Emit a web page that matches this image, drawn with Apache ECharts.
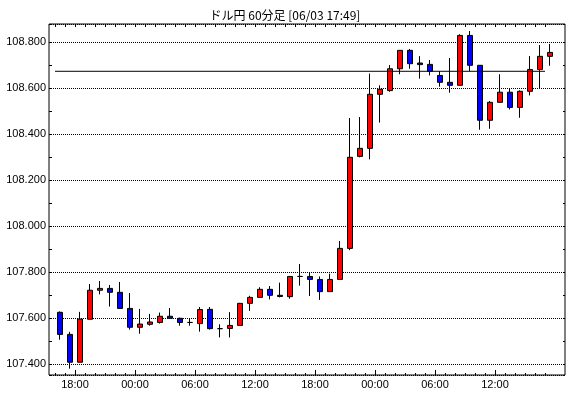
<!DOCTYPE html>
<html>
<head>
<meta charset="utf-8">
<script src="https://cdn.jsdelivr.net/npm/echarts@6/dist/echarts.min.js"></script>
<style>
  html, body { margin: 0; padding: 0; background: #fff; }
  #chart { width: 570px; height: 398px; }
</style>
</head>
<body>
<div id="chart"></div>
<script>
// hourly bars, 06/01 16:00 .. 06/03 17:00
const candleTimes = [
  '16:00', '17:00', '18:00', '19:00', '20:00', '21:00', '22:00', '23:00',
  '00:00', '01:00', '02:00', '03:00', '04:00', '05:00', '06:00', '07:00',
  '08:00', '09:00', '10:00', '11:00', '12:00', '13:00', '14:00', '15:00',
  '16:00', '17:00', '18:00', '19:00', '20:00', '21:00', '22:00', '23:00',
  '00:00', '01:00', '02:00', '03:00', '04:00', '05:00', '06:00', '07:00',
  '08:00', '09:00', '10:00', '11:00', '12:00', '13:00', '14:00', '15:00',
  '16:00', '17:00'
]
const openVals = [
  107.626, 107.530, 107.409, 107.596, 107.722, 107.730, 107.713, 107.643, 107.561, 107.574,
  107.582, 107.609, 107.600, 107.582, 107.577, 107.639, 107.555, 107.556, 107.569, 107.665,
  107.691, 107.726, 107.700, 107.694, 107.782, 107.782, 107.769, 107.716, 107.769, 107.904,
  108.304, 108.339, 108.574, 108.590, 108.685, 108.765, 108.710, 108.704, 108.656, 108.626,
  108.613, 108.830, 108.700, 108.461, 108.539, 108.583, 108.517, 108.587, 108.682, 108.739
]
const closeVals = [
  107.530, 107.409, 107.597, 107.722, 107.730, 107.713, 107.643, 107.561, 107.575, 107.584,
  107.609, 107.600, 107.582, 107.582, 107.638, 107.555, 107.555, 107.569, 107.665, 107.691,
  107.726, 107.700, 107.695, 107.782, 107.782, 107.769, 107.716, 107.769, 107.904, 108.300,
  108.339, 108.574, 108.596, 108.685, 108.765, 108.707, 108.703, 108.674, 108.626, 108.613,
  108.830, 108.700, 108.461, 108.539, 108.583, 108.517, 108.587, 108.682, 108.739, 108.756
]
const lowVals = [
  107.507, 107.381, 107.409, 107.596, 107.704, 107.651, 107.643, 107.551, 107.533, 107.568,
  107.577, 107.597, 107.568, 107.568, 107.542, 107.551, 107.517, 107.517, 107.567, 107.632,
  107.690, 107.682, 107.691, 107.685, 107.742, 107.697, 107.680, 107.716, 107.769, 107.896,
  108.300, 108.291, 108.451, 108.585, 108.661, 108.685, 108.642, 108.656, 108.607, 108.581,
  108.613, 108.674, 108.420, 108.424, 108.539, 108.508, 108.472, 108.569, 108.600, 108.698
]
const highVals = [
  107.630, 107.541, 107.628, 107.749, 107.762, 107.745, 107.758, 107.710, 107.641, 107.619,
  107.625, 107.645, 107.603, 107.600, 107.649, 107.649, 107.574, 107.627, 107.667, 107.698,
  107.735, 107.740, 107.755, 107.783, 107.836, 107.798, 107.782, 107.794, 107.936, 108.471,
  108.475, 108.664, 108.613, 108.701, 108.766, 108.771, 108.740, 108.723, 108.674, 108.732,
  108.835, 108.849, 108.700, 108.545, 108.661, 108.598, 108.591, 108.740, 108.788, 108.793
]
const refLevel = 108.674
const yMin = 107.3535
const yMax = 108.8796
const titleText = 'ドル円 60分足 [06/03 17:49]'

// tick slots sit on the hour boundaries, two spare slots at the right end
const hourTicks = candleTimes.concat(['', ''])
const candleData = openVals.map((o, i) => [o, closeVals[i], lowVals[i], highVals[i]])

const labelFont = { color: '#000', fontSize: 11, fontFamily: 'Liberation Sans' }
const isHour = (i, v) => v !== ''
const isMajor = (i, v) => v !== '' && parseInt(v, 10) % 6 === 0

const chart = echarts.init(document.getElementById('chart'))
chart.setOption({
  animation: false,
  backgroundColor: '#fff',
  title: {
    text: titleText,
    left: 'center',
    top: 4,
    textStyle: { fontSize: 12, fontWeight: 'normal', color: '#000', fontFamily: 'Noto Sans CJK JP' }
  },
  grid: [
    // frame + price scale
    { left: 49, top: 24, width: 516, height: 351, show: true, borderColor: '#000', borderWidth: 1, backgroundColor: '#fff' },
    // candles, 10px per hour
    { left: 55, top: 24, width: 510, height: 351 }
  ],
  xAxis: [
    { gridIndex: 0, type: 'value', show: false, min: 0, max: 1 },
    { gridIndex: 1, type: 'category', data: candleTimes.concat(['']), boundaryGap: true, show: false },
    {
      gridIndex: 1, type: 'category', data: hourTicks, boundaryGap: false, position: 'bottom',
      axisLine: { show: false },
      axisTick: { inside: true, length: 2, interval: isHour, lineStyle: { color: '#000' } },
      axisLabel: { show: false },
      splitLine: { show: false }
    },
    {
      gridIndex: 1, type: 'category', data: hourTicks, boundaryGap: false, position: 'bottom',
      axisLine: { show: false },
      axisTick: { inside: true, length: 5, interval: isMajor, lineStyle: { color: '#000' } },
      axisLabel: Object.assign({ interval: isMajor, margin: 4 }, labelFont),
      splitLine: { show: false }
    },
    {
      gridIndex: 1, type: 'category', data: hourTicks, boundaryGap: false, position: 'top',
      axisLine: { show: false },
      axisTick: { inside: true, length: 3, interval: isHour, lineStyle: { color: '#000' } },
      axisLabel: { show: false },
      splitLine: { show: false }
    }
  ],
  yAxis: [
    {
      gridIndex: 0, type: 'value', min: yMin, max: yMax, minInterval: 0.2, maxInterval: 0.2, position: 'left',
      axisLine: { show: false },
      axisTick: { show: false },
      axisLabel: Object.assign({
        margin: 3, showMinLabel: false, showMaxLabel: false,
        formatter: v => v.toFixed(3)
      }, labelFont),
      splitLine: { show: true, lineStyle: { color: '#000', type: [1, 1], width: 1 } }
    },
    {
      gridIndex: 0, type: 'value', min: yMin, max: yMax, minInterval: 0.1, maxInterval: 0.1, position: 'left',
      axisLine: { show: false },
      axisTick: { show: true, inside: true, length: 3, lineStyle: { color: '#000' } },
      axisLabel: { show: false },
      splitLine: { show: false }
    },
    {
      gridIndex: 0, type: 'value', min: yMin, max: yMax, minInterval: 0.1, maxInterval: 0.1, position: 'right',
      axisLine: { show: false },
      axisTick: { show: true, inside: true, length: 2, lineStyle: { color: '#000' } },
      axisLabel: { show: false },
      splitLine: { show: false }
    },
    { gridIndex: 1, type: 'value', min: yMin, max: yMax, show: false, splitLine: { show: false } }
  ],
  series: [
    {
      type: 'line',
      xAxisIndex: 2,
      yAxisIndex: 3,
      data: [[0, refLevel], [candleTimes.length - 1, refLevel]],
      symbol: 'none',
      lineStyle: { color: '#000', width: 1 },
      silent: true
    },
    {
      type: 'candlestick',
      xAxisIndex: 1,
      yAxisIndex: 3,
      barWidth: 6,
      data: candleData,
      itemStyle: {
        color: '#ff0000',
        color0: '#0000ff',
        borderColor: '#000',
        borderColor0: '#000',
        borderWidth: 1
      }
    }
  ]
})
</script>
</body>
</html>
